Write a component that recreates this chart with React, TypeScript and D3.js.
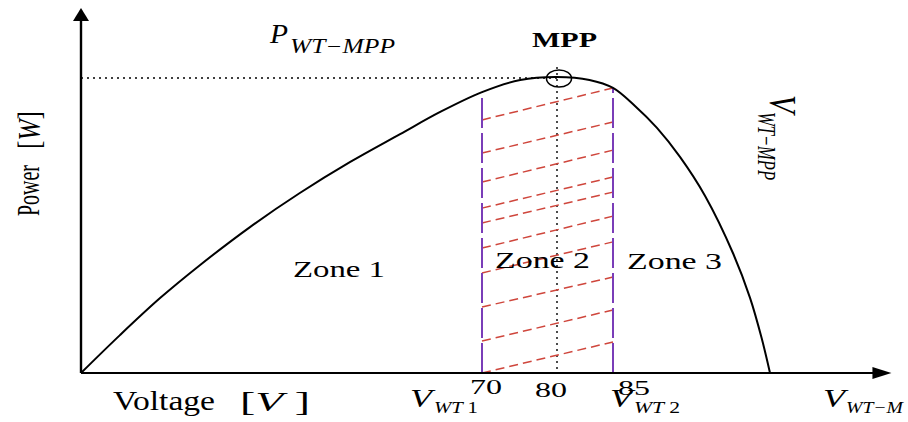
import React from 'react';
import * as d3 from 'd3';

// P–V curve samples (voltage units of the drawn axis, power normalised to MPP)
const voltage = [0, 6.8, 13.8, 20.8, 29.5, 38.2, 47.0, 55.7, 62.7, 70, 75.1, 80, 82.9, 85, 87.1, 89.2, 91.4, 93.8, 96.5, 98.1, 99.2, 100];
const power = [0, 0.128, 0.253, 0.365, 0.493, 0.608, 0.713, 0.807, 0.882, 0.949, 0.99, 1.0, 0.99, 0.963, 0.902, 0.828, 0.73, 0.598, 0.402, 0.253, 0.118, 0];

const V_WT1 = 70;
const V_MPP = 80;
const V_WT2 = 85;
const V_AXIS_END = 111.6;
const P_AXIS_END = 1.233;

// hatch lines of zone 2 (power level at left boundary -> at right boundary)
const hatchLeft = [0.855, 0.743, 0.645, 0.557, 0.507, 0.422, 0.338, 0.223, 0.108, 0];
const hatchRight = [0.963, 0.848, 0.753, 0.662, 0.611, 0.53, 0.443, 0.324, 0.213, 0.105];

const tickValues = [70, 80, 85];
const tickLabels = ['70', '80', '85'];
const tickDx = [-12, -22, 5];
const tickDy = [21, 24, 22];

const zoneLabels = ['Zone 1', 'Zone 2', 'Zone 3'];

const W = 908;
const H = 422;

const x = d3.scaleLinear().domain([0, 70, 80, 85, 100]).range([81, 482, 557, 613, 770]);
const y = d3.scaleLinear().domain([0, 1]).range([373, 77]);

const SERIF = '"Liberation Serif", "Times New Roman", serif';

type TP = {
  x: number; y: number; size: number; w?: number; italic?: boolean; bold?: boolean;
  rot?: number; children: React.ReactNode;
};
function T({ x: tx, y: ty, size, w, italic, bold, rot, children }: TP) {
  return (
    <text
      transform={`translate(${tx},${ty})${rot ? ` rotate(${rot})` : ''}`}
      fontFamily={SERIF}
      fontSize={size}
      fontStyle={italic ? 'italic' : 'normal'}
      fontWeight={bold ? 'bold' : 'normal'}
      fill="#000"
      textLength={w}
      lengthAdjust={w ? 'spacingAndGlyphs' : undefined}
    >
      {children}
    </text>
  );
}

export default function App() {
  const pts = voltage.map((v, i) => [x(v), y(power[i])] as [number, number]);
  const curvePath = d3.line().curve(d3.curveCatmullRom.alpha(0.5))(pts) || '';
  const x0 = x(0);
  const yb = y(0);

  const zoneX = [x(V_WT1), x(V_WT2)];
  const zoneTop = [y(power[voltage.indexOf(V_WT1)]), y(power[voltage.indexOf(V_WT2)])];

  return (
    <svg width={W} height={H} style={{ position: 'absolute', left: 0, top: 0, background: '#fff' }}>
      <defs>
        <filter id="glow" x="-200%" y="-10%" width="500%" height="120%">
          <feGaussianBlur stdDeviation="3" />
        </filter>
      </defs>
      <rect width={W} height={H} fill="#fff" />

      {/* dotted guides */}
      <line x1={x0} x2={x(V_MPP)} y1={y(1) + 1} y2={y(1) + 1} stroke="#000" strokeWidth={1.4} strokeDasharray="2 4" />
      <line x1={x(V_MPP)} x2={x(V_MPP)} y1={y(1.034)} y2={yb} stroke="#000" strokeWidth={1.4} strokeDasharray="2 4" />

      {/* hatch */}
      {hatchLeft.map((p, i) => (
        <line key={i} x1={zoneX[0]} y1={y(p)} x2={zoneX[1]} y2={y(hatchRight[i])}
          stroke="#cf463c" strokeWidth={1.5} strokeDasharray="9 5" />
      ))}

      {/* zone boundaries with glow */}
      {zoneX.map((zx, i) => (
        <g key={i}>
          <line x1={zx} x2={zx} y1={yb} y2={zoneTop[i]} stroke="#f7b98a" strokeOpacity={0.55}
            strokeWidth={7} strokeDasharray="12 23" strokeDashoffset={8.5} filter="url(#glow)" />
          <line x1={zx} x2={zx} y1={yb} y2={zoneTop[i]} stroke="#7a3db8" strokeWidth={2}
            strokeDasharray="30 5" />
        </g>
      ))}

      {/* curve */}
      <path d={curvePath} fill="none" stroke="#000" strokeWidth={2} />

      {/* MPP circle */}
      <ellipse cx={x(V_MPP) + 2} cy={y(1) + 1.5} rx={12.5} ry={8.5} fill="none" stroke="#000" strokeWidth={1.5} />

      {/* axes */}
      <line x1={x0} x2={x(V_AXIS_END) - 12} y1={yb} y2={yb} stroke="#000" strokeWidth={2} />
      <line x1={x0} x2={x0} y1={yb} y2={y(P_AXIS_END) + 10} stroke="#000" strokeWidth={2.4} />
      <path d={`M${x(V_AXIS_END)},${yb} L${x(V_AXIS_END) - 19},${yb - 6} L${x(V_AXIS_END) - 19},${yb + 6} Z`} fill="#000" />
      <path d={`M${x0},${y(P_AXIS_END)} L${x0 - 8},${y(P_AXIS_END) + 13} L${x0 + 8},${y(P_AXIS_END) + 13} Z`} fill="#000" />

      {/* tick labels */}
      {tickValues.map((v, i) => (
        <T key={v} x={x(v) + tickDx[i]} y={yb + tickDy[i]} size={21} w={32}>{tickLabels[i]}</T>
      ))}

      {/* zone labels */}
      <T x={293} y={277} size={24} w={92}>{zoneLabels[0]}</T>
      <T x={495} y={268} size={24} w={95}>{zoneLabels[1]}</T>
      <T x={627} y={269} size={24} w={95}>{zoneLabels[2]}</T>

      {/* P_WT-MPP */}
      <T x={270} y={43} size={27} w={18} italic>P</T>
      <T x={290} y={53} size={20} w={105} italic>WT−MPP</T>

      <T x={532} y={47} size={22} w={65} bold>MPP</T>

      {/* V_WT-MPP rotated */}
      <T x={770} y={95} size={37} w={18} italic rot={90}>V</T>
      <T x={758} y={112} size={25} w={68} italic rot={90}>WT−MPP</T>

      {/* V_WT1, V_WT2, V_WT-M */}
      <T x={410} y={407} size={26} w={22} italic>V</T>
      <T x={434} y={413} size={17} w={44} italic>WT <tspan fontStyle="normal">1</tspan></T>
      <T x={610} y={407} size={26} w={22} italic>V</T>
      <T x={634} y={413} size={17} w={46} italic>WT <tspan fontStyle="normal">2</tspan></T>
      <T x={823} y={407} size={26} w={22} italic>V</T>
      <T x={846} y={413} size={17} w={57} italic>WT−M</T>

      {/* axis titles */}
      <T x={113} y={410} size={27} w={102}>Voltage</T>
      <T x={240} y={411} size={27} w={70}>[<tspan fontStyle="italic">V</tspan> ]</T>
      <T x={39} y={216} size={31} w={51} rot={-90}>Power</T>
      <T x={40} y={149} size={31} w={38} rot={-90}>[<tspan fontStyle="italic">W</tspan>]</T>
    </svg>
  );
}
